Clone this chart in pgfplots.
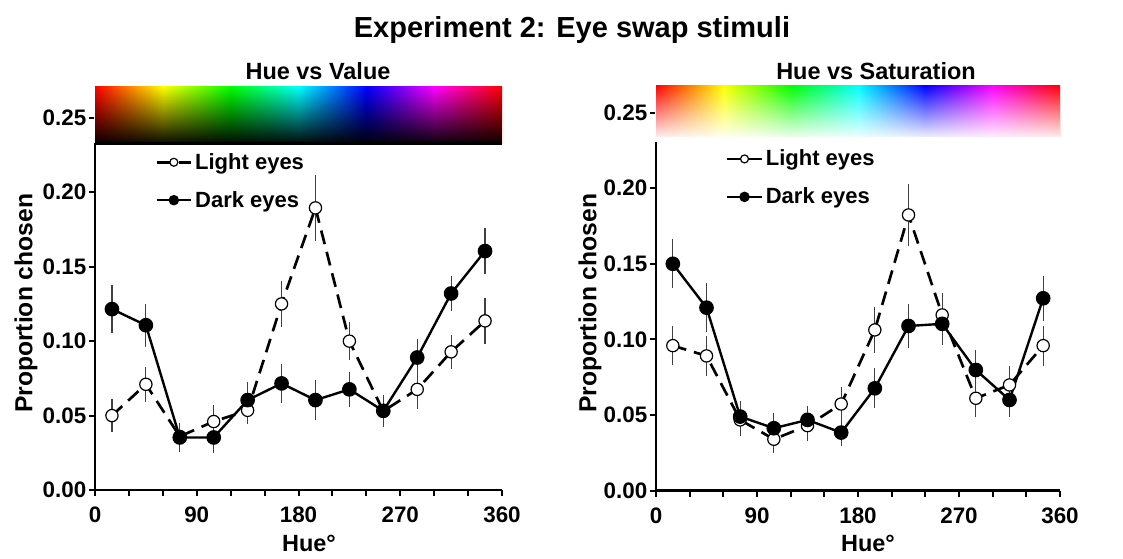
\documentclass[border=0pt]{standalone}
\usepackage{fontspec}
\setmainfont{Liberation Sans}
\usepackage{pgfplots}
\pgfplotsset{compat=1.18}
\usetikzlibrary{fadings}

% hue ramp, the path is mapped onto 25bp..75bp
\pgfdeclarehorizontalshading{huebar}{100bp}{color(0bp)=(red); color(25bp)=(red);
  color(33.333bp)=(yellow); color(41.667bp)=(green); color(50bp)=(cyan);
  color(58.333bp)=(blue); color(66.667bp)=(magenta); color(75bp)=(red); color(100bp)=(red)}
% opaque at the bottom, clear at the top
\tikzfading[name=barfade, top color=transparent!100, bottom color=transparent!0]

\newcommand{\ticksize}{\fontsize{16.8pt}{19pt}\selectfont\bfseries}
\newcommand{\labsize}{\fontsize{17.6pt}{20pt}\selectfont\bfseries}
\newcommand{\legsize}{\fontsize{16.5pt}{19pt}\selectfont\bfseries}

\pgfplotsset{
  hueaxis/.style={
    scale only axis,
    axis lines*=left,
    axis line style={line width=1.9pt},
    clip=false,
    xmin=0, xmax=360, ymin=0,
    xtick={0,90,180,270,360}, minor x tick num=2,
    ytick={0,0.05,0.1,0.15,0.2,0.25},
    scaled y ticks=false,
    tick align=outside,
    major tick length=4.5pt, minor tick length=4.5pt,
    every tick/.style={line width=1.5pt, black},
    /pgf/number format/assume math mode=true,
    ticklabel style={font=\ticksize},
    yticklabel style={xshift=1.5pt, /pgf/number format/.cd, fixed, fixed zerofill, precision=2},
    xticklabel style={yshift=-4.5pt},
    legend cell align=left,
    legend style={draw=none, fill=none, inner sep=0pt, row sep=11pt,
      font=\legsize, anchor=west},
    legend image code/.code={
      \draw[mark repeat=2, mark phase=2, mark size=3pt, #1]
        plot coordinates {(0pt,0pt) (13pt,0pt) (26pt,0pt)};},
  },
  light/.style={black, line width=2pt, dash pattern=on 10.5pt off 6pt,
    mark=*, mark size=4.6pt,
    mark options={solid, fill=white, draw=black, line width=0.9pt},
    error bars/.cd, y dir=both, y explicit,
    error bar style={solid, line width=0.9pt, black!75},
    error mark options={solid, line width=0.9pt, black!75, mark size=2.6pt}},
  dark/.style={black, line width=1.8pt,
    mark=*, mark size=4.6pt, mark options={fill=black},
    error bars/.cd, y dir=both, y explicit,
    error bar style={line width=0.9pt, black!75},
    error mark options={line width=0.9pt, black!75, mark size=2.6pt}},
}

\begin{document}
\begin{tikzpicture}
\path[use as bounding box] (0,0) rectangle (842.25pt,-418.5pt);

\node[font=\fontsize{21.75pt}{24pt}\selectfont\bfseries] at (429pt,-22.5pt) {Experiment 2: Eye swap stimuli};

% ---- left: hue vs value
\begin{axis}[hueaxis,
    at={(71.25pt,-367.5pt)}, anchor=south west,
    width=305.25pt, height=302.6pt, ymax=0.271,
    legend style={at={(axis cs:53,0.2074)}}]
\addplot[light] coordinates {
  (15,0.050)   +- (0,0.0086)
  (45,0.071)   +- (0,0.0095)
  (75,0.036)   +- (0,0.006)
  (105,0.046)  +- (0,0.0085)
  (135,0.0535) +- (0,0.007)
  (165,0.125)  +- (0,0.013)
  (195,0.1895) +- (0,0.020)
  (225,0.100)  +- (0,0.0103)
  (255,0.053)  +- (0,0.007)
  (285,0.0676) +- (0,0.0108)
  (315,0.0928) +- (0,0.0092)
  (345,0.1136) +- (0,0.013)
};
\addlegendentry{Light eyes}
\addplot[dark] coordinates {
  (15,0.1215)  +- (0,0.0137)
  (45,0.1107)  +- (0,0.012)
  (75,0.0353)  +- (0,0.0073)
  (105,0.0353) +- (0,0.008)
  (135,0.0604) +- (0,0.0096)
  (165,0.0716) +- (0,0.0107)
  (195,0.0604) +- (0,0.011)
  (225,0.0676) +- (0,0.0095)
  (255,0.0532) +- (0,0.0084)
  (285,0.089)  +- (0,0.0102)
  (315,0.132)  +- (0,0.0096)
  (345,0.1605) +- (0,0.0134)
};
\addlegendentry{Dark eyes}
\fill[white] (axis cs:-1.3,0.233) rectangle (axis cs:0,0.271);
\fill[shading=huebar] (axis cs:0,0.233) rectangle (axis cs:360,0.271);
\fill[black, path fading=barfade] (axis cs:0,0.2315) rectangle (axis cs:360,0.271);
\fill[black] (axis cs:0,0.2315) rectangle (axis cs:360,0.2335);
\end{axis}

% ---- right: hue vs saturation
\begin{axis}[hueaxis,
    at={(492pt,-368pt)}, anchor=south west,
    width=303pt, height=304pt, ymax=0.268,
    legend style={at={(axis cs:62,0.2068)}}]
\addplot[light] coordinates {
  (15,0.0959)  +- (0,0.0106)
  (45,0.0891)  +- (0,0.0107)
  (75,0.0468)  +- (0,0.0084)
  (105,0.034)  +- (0,0.007)
  (135,0.043)  +- (0,0.008)
  (165,0.0573) +- (0,0.009)
  (195,0.1063) +- (0,0.013)
  (225,0.1823) +- (0,0.018)
  (255,0.1162) +- (0,0.012)
  (285,0.0611) +- (0,0.0099)
  (315,0.0699) +- (0,0.0102)
  (345,0.0959) +- (0,0.011)
};
\addlegendentry{Light eyes}
\addplot[dark] coordinates {
  (15,0.150)   +- (0,0.014)
  (45,0.121)   +- (0,0.014)
  (75,0.049)   +- (0,0.008)
  (105,0.0413) +- (0,0.008)
  (135,0.0468) +- (0,0.007)
  (165,0.0384) +- (0,0.0066)
  (195,0.0677) +- (0,0.011)
  (225,0.1089) +- (0,0.012)
  (255,0.1103) +- (0,0.0118)
  (285,0.0798) +- (0,0.011)
  (315,0.060)  +- (0,0.009)
  (345,0.1272) +- (0,0.0124)
};
\addlegendentry{Dark eyes}
\fill[white] (axis cs:-1.3,0.233) rectangle (axis cs:0,0.268);
\fill[shading=huebar] (axis cs:0,0.233) rectangle (axis cs:360,0.268);
\fill[white, path fading=barfade] (axis cs:0,0.2315) rectangle (axis cs:360,0.268);
\fill[white] (axis cs:-1.3,0.2305) rectangle (axis cs:360.5,0.2338);
\end{axis}

% titles and axis labels
\node[font=\labsize] at (238.5pt,-53.25pt) {Hue vs Value};
\node[font=\labsize] at (657pt,-53.25pt) {Hue vs Saturation};
\node[font=\fontsize{18.5pt}{21pt}\selectfont\bfseries, rotate=90] at (19.5pt,-227.5pt) {Proportion chosen};
\node[font=\fontsize{18.5pt}{21pt}\selectfont\bfseries, rotate=90] at (442.5pt,-227.5pt) {Proportion chosen};
\node[font=\labsize] at (231.75pt,-407.25pt) {Hue°};
\node[font=\labsize] at (651pt,-407.25pt) {Hue°};
\end{tikzpicture}
\end{document}
